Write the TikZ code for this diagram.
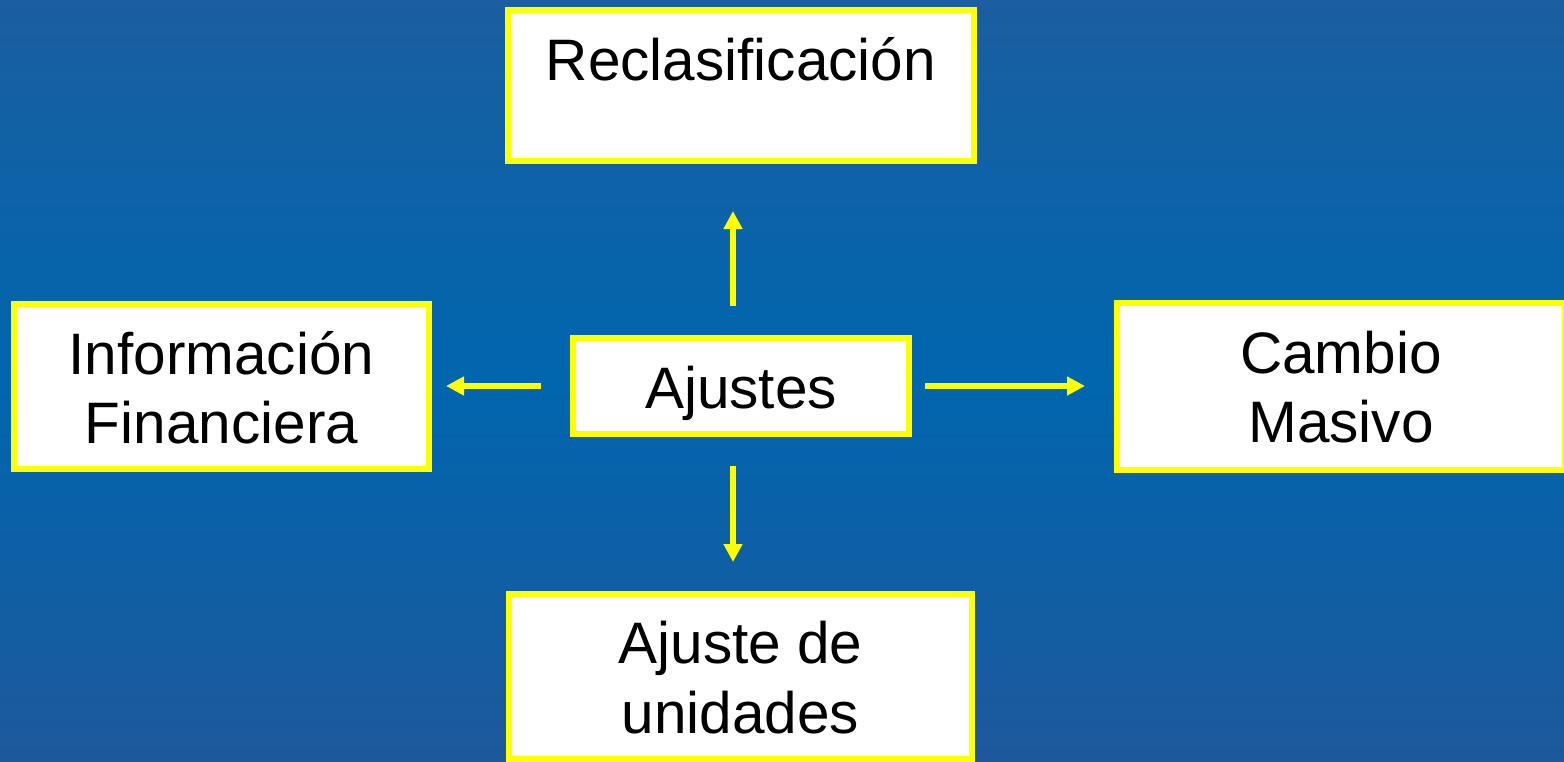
\documentclass[tikz,border=0pt]{standalone}
\usepackage{fontspec}
\setmainfont{Liberation Sans}
\usetikzlibrary{arrows.meta}
\definecolor{bgtop}{RGB}{27,94,161}
\definecolor{bgmid}{RGB}{0,102,174}
\definecolor{bgbot}{RGB}{30,88,156}
\definecolor{ylw}{RGB}{255,255,0}
\begin{document}
\begin{tikzpicture}[x=1pt,y=-1pt]
\tikzset{
 box/.style={draw=ylw, fill=white, line width=6pt, inner sep=0pt},
 lbl/.style={anchor=base, inner sep=0pt, text=black, font=\fontsize{58.5}{69}\selectfont},
 arr/.style={draw=ylw, line width=5.5pt, -{Triangle[length=18pt,width=18pt]}},
}
\useasboundingbox (0,0) rectangle (1564,761);
\shade[top color=bgtop, bottom color=bgbot, middle color=bgmid] (0,0) rectangle (1564,761);

\node[box, minimum width=466pt, minimum height=151pt] (rec) at (741,85.5) {};
\node[box, minimum width=415pt, minimum height=165pt] (inf) at (221.5,386) {};
\node[box, minimum width=336pt, minimum height=96pt] (aj) at (741,386) {};
\node[box, minimum width=448pt, minimum height=167pt] (cam) at (1341,386) {};
\node[box, minimum width=463pt, minimum height=165pt] (adu) at (740.5,676.5) {};

\node[lbl] (rect) at (741,80) {Reclasificación};
\node[lbl] (inft1) at (221.5,374) {Información};
\node[lbl] (inft2) at (221.5,443) {Financiera};
\node[lbl] (ajt) at (741,408) {Ajustes};
\node[lbl] (camt1) at (1341,373) {Cambio};
\node[lbl] (camt2) at (1341,442) {Masivo};
\node[lbl] (adut1) at (740.5,663) {Ajuste de};
\node[lbl] (adut2) at (740.5,733) {unidades};

\draw[arr] ([xshift=-8pt,yshift=29pt]aj.north) -- ([xshift=-8pt,yshift=-47pt]rec.south);
\draw[arr] ([xshift=-29pt]aj.west) -- ([xshift=14pt]inf.east);
\draw[arr] ([xshift=13pt]aj.east) -- ([xshift=-29pt]cam.west);
\draw[arr] ([xshift=-8pt,yshift=-29pt]aj.south) -- ([xshift=-7.5pt,yshift=29pt]adu.north);
\end{tikzpicture}
\end{document}
